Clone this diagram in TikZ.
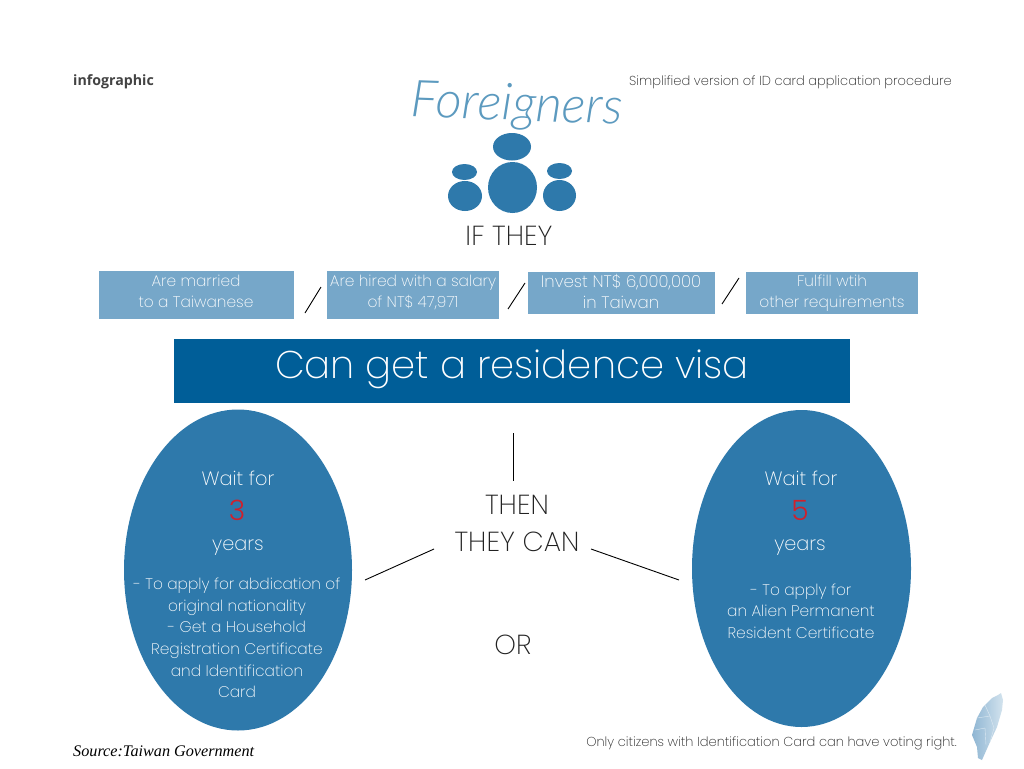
\documentclass[tikz,border=0pt]{standalone}
\usepackage{fontspec}
\setmainfont{Poppins ExtraLight}
\newfontfamily\labelfont{Open Sans}
\newfontfamily\hfont{Lato Light}
\newfontfamily\numfont{Poppins Light}
\newfontfamily\srcfont{Liberation Serif}
\definecolor{blobblue}{HTML}{2E79AB}
\definecolor{paleblue}{HTML}{76A7C9}
\definecolor{deepblue}{HTML}{005E98}
\definecolor{titleblue}{HTML}{5C9ABF}
\definecolor{redn}{HTML}{D0202C}
\definecolor{isleA}{HTML}{8FB6D3}
\definecolor{isleB}{HTML}{D3E3EE}
\definecolor{darktxt}{HTML}{222222}
\usetikzlibrary{shapes.geometric}
\tikzset{
  blob/.style={ellipse,fill=blobblue,inner sep=0pt},
  palebox/.style={fill=paleblue,inner sep=0pt},
  boxtxt/.style={text=white,align=center,font=\fontsize{15.4}{21}\selectfont,inner sep=0pt},
  bodytxt/.style={text=white,align=center,font=\fontsize{15.4}{21.6}\selectfont,inner sep=0pt},
  headtxt/.style={text=white,align=center,font=\fontsize{19.3}{24}\selectfont,inner sep=0pt},
  numtxt/.style={text=redn,font=\numfont\fontsize{28}{32}\selectfont,inner sep=0pt},
  bigtxt/.style={text=darktxt,align=center,font=\fontsize{27.5}{37}\selectfont,inner sep=0pt},
  smalltxt/.style={text=darktxt,font=\fontsize{13}{16}\selectfont,inner sep=0pt},
  sep/.style={draw=black,line width=0.9pt}
}
\begin{document}
\begin{tikzpicture}[x=1pt,y=-1pt]
\useasboundingbox[fill=white] (0,0) rectangle (1024,768);
\node[inner sep=0pt,anchor=west,font=\labelfont\bfseries\fontsize{14.2}{16}\selectfont,text=darktxt!85] (info) at (73,82) {infographic};
\node[smalltxt,anchor=east] (simp) at (952,82) {Simplified version of ID card application procedure};
\node[inner sep=0pt,rotate=-2,text=titleblue,font=\hfont\itshape\fontsize{51}{54}\selectfont] (title) at (517,107) {Foreigners};
% people
\node[blob,minimum width=38pt,minimum height=27.5pt] (h1) at (512,146.75) {};
\node[blob,minimum width=49pt,minimum height=51pt] (b1) at (512.5,187.5) {};
\node[blob,minimum width=25pt,minimum height=16pt] (h2) at (464.5,172) {};
\node[blob,minimum width=34pt,minimum height=30pt] (b2) at (465,196) {};
\node[blob,minimum width=25pt,minimum height=16pt] (h3) at (559.5,171) {};
\node[blob,minimum width=33pt,minimum height=31pt] (b3) at (559.5,195.5) {};
\node[bigtxt] (if) at (509,236) {IF THEY};
% boxes
\node[palebox,minimum width=195pt,minimum height=48pt] (c1) at (196,295) {};
\node[palebox,minimum width=172pt,minimum height=48pt] (c2) at (413,295) {};
\node[palebox,minimum width=187pt,minimum height=42pt] (c3) at (621,292.5) {};
\node[palebox,minimum width=172pt,minimum height=42pt] (c4) at (832,292.5) {};
\node[boxtxt] (t1) at (196,291.5) {Are married\\to a Taiwanese};
\node[boxtxt] (t2) at (413,292) {Are hired with a salary\\of NT\$ 47,971};
\node[boxtxt,font=\fontsize{16.6}{21}\selectfont] (t3) at (621,291.5) {Invest NT\$ 6,000,000\\in Taiwan};
\node[boxtxt] (t4) at (832,293) {Fulfill wtih\\other requirements};
\coordinate (s1a) at (321,287); \coordinate (s1b) at (305,313);
\coordinate (s2a) at (525,283); \coordinate (s2b) at (508,309);
\coordinate (s3a) at (739,278); \coordinate (s3b) at (722,304);
\draw[sep] (s1a) -- (s1b);
\draw[sep] (s2a) -- (s2b);
\draw[sep] (s3a) -- (s3b);
\node[fill=deepblue,minimum width=676pt,minimum height=64pt,inner sep=0pt] (visa) at (512,371) {};
\node[text=white,inner sep=0pt,font=\fontsize{38.6}{44}\selectfont] (visat) at (512,369) {Can get a residence visa};
% ovals
\node[blob,minimum width=228pt,minimum height=321pt] (ol) at (238,570) {};
\node[blob,minimum width=219pt,minimum height=317pt] (or) at (801.5,568.5) {};
\node[headtxt] (w1) at (238,478) {Wait for};
\node[numtxt] (n1) at (237,510) {3};
\node[headtxt] (y1) at (238,548) {years};
\node[bodytxt] (d1) at (237,638) {- To apply for abdication of\\original nationality\\- Get a Household\\Registration Certificate\\and Identification\\Card};
\node[headtxt] (w2) at (801,478) {Wait for};
\node[numtxt] (n2) at (800,510) {5};
\node[headtxt] (y2) at (800,548) {years};
\node[bodytxt] (d2) at (801,611) {- To apply for\\an Alien Permanent\\Resident Certificate};
\node[bigtxt] (then) at (517,523) {THEN\\THEY CAN};
\node[bigtxt] (ortxt) at (513,645) {OR};
\coordinate (v1) at (513,433); \coordinate (v2) at (513,481);
\coordinate (l1) at (434,549); \coordinate (l2) at (365,580);
\coordinate (r1) at (591,549); \coordinate (r2) at (679,580);
\draw[sep] (v1) -- (v2);
\draw[sep] (l1) -- (l2);
\draw[sep] (r1) -- (r2);
\node[inner sep=0pt,anchor=west,text=black,font=\srcfont\itshape\fontsize{16.2}{18}\selectfont] (src) at (73,751) {Source:Taiwan Government};
\node[smalltxt,anchor=east] (vote) at (957,743) {Only citizens with Identification Card can have voting right.};
% island
\shade[left color=isleA,right color=isleB] (1001,693) -- (1003,700) -- (1002,710) -- (997,727) -- (990,742) -- (982,760) -- (978,758) -- (977,747) -- (972,735) -- (977,718) -- (983,707) -- (992,698) -- (998,695) -- cycle;
\draw[white!70!isleA,line width=0.4pt] (977,718) -- (990,716) -- (994,728) -- (990,742);
\draw[white!70!isleA,line width=0.4pt] (985,705) -- (990,716);
\draw[white!70!isleA,line width=0.4pt] (975,730) -- (985,728) -- (986,745);
\end{tikzpicture}
\end{document}
